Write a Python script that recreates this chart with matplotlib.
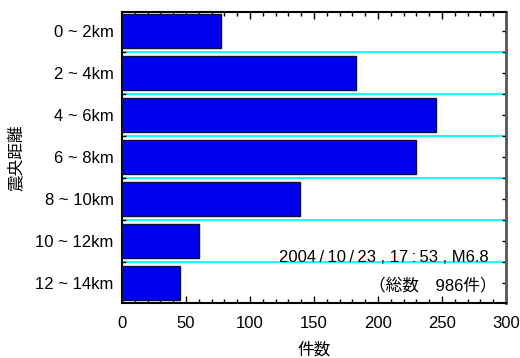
import numpy as np
import matplotlib.pyplot as plt
from matplotlib.ticker import MultipleLocator

# epicentral distance bins and event counts
ranges = ["0 ~ 2km", "2 ~ 4km", "4 ~ 6km", "6 ~ 8km", "8 ~ 10km", "10 ~ 12km", "12 ~ 14km"]
counts = [77, 183, 245, 230, 139, 60, 45]
event_info = "2004\u2009/\u200910\u2009/\u200923 , 17\u2009:\u200953 , M6.8"
total_label = "（総数　986件）"

plt.rcParams['font.family'] = ['Liberation Sans', 'Noto Sans CJK JP', 'DejaVu Sans']
plt.rcParams['font.size'] = 12

fig = plt.figure(figsize=(5.2, 3.58), dpi=100)
ax = fig.add_axes([122 / 520, 55 / 358, 384 / 520, 291 / 358])

y = np.arange(len(ranges))
ax.barh(y, counts, height=0.81, color='#0000f0', edgecolor='#101030', linewidth=1.0, zorder=3)

# cyan separators between the bins
ax.set_yticks(y[:-1] + 0.5, minor=True)
ax.grid(axis='y', which='minor', color='#00ffff', linewidth=1.3, zorder=1)

ax.set_yticks(y)
ax.set_yticklabels(ranges)
ax.set_ylim(len(ranges) - 0.53, -0.46)

ax.set_xlim(0, 300)
ax.xaxis.set_major_locator(MultipleLocator(50))
ax.xaxis.set_minor_locator(MultipleLocator(10))

ax.tick_params(axis='x', which='both', direction='in', top=True, bottom=True, pad=9)
ax.tick_params(axis='x', which='major', length=5, width=1)
ax.tick_params(axis='x', which='minor', length=3, width=1)
ax.tick_params(axis='y', which='major', direction='in', left=False, right=True, length=3, width=1, pad=6)
ax.tick_params(axis='y', which='minor', direction='in', left=True, right=True, length=3, width=1)

for side in ['left', 'top', 'bottom']:
    ax.spines[side].set_linewidth(1.5)
ax.spines['right'].set_linewidth(2)
ax.spines['right'].set_color('#555555')

ax.set_xlabel("件数", labelpad=8)
ax.set_ylabel("震央距離", labelpad=8)

ax.text(0.955, 0.155, event_info, transform=ax.transAxes, ha='right', va='center', zorder=4)
ax.text(0.975, 0.06, total_label, transform=ax.transAxes, ha='right', va='center', zorder=4)

fig.savefig("out.png", dpi=100)
